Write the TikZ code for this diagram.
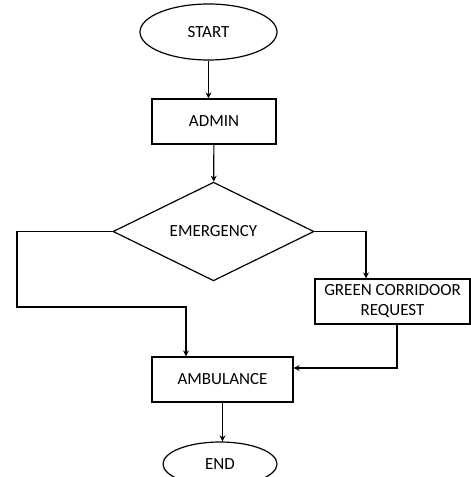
\documentclass[tikz,border=0pt]{standalone}
\usepackage{fontspec}
\setmainfont{Carlito}
\usepackage{tikz}
\usetikzlibrary{positioning}
\usetikzlibrary{shapes.geometric}
\usetikzlibrary{arrows.meta}

\begin{document}
\begin{tikzpicture}[x=1pt,y=-1pt,
        box/.style={draw, rectangle, line width=1.2pt, inner sep=0pt, font=\fontsize{17}{20}\selectfont},
        term/.style={draw, ellipse, line width=1.2pt, inner sep=0pt, font=\fontsize{17}{20}\selectfont},
        decide/.style={draw, diamond, line width=1.2pt, inner sep=0pt, font=\fontsize{17}{20}\selectfont},
        arr/.style={line width=1.2pt, -{Stealth[length=6pt,width=6pt]}}]
            \useasboundingbox (0,0) rectangle (471,477);
            \clip (0,0) rectangle (471,477);
            \node[term, minimum width=137, minimum height=56] (start) at (208.5,32){START};
            \node[box, minimum width=124, minimum height=45] (admin) at (214,121.5){ADMIN};
            \node[decide, minimum width=201, minimum height=73] (emerg) at (213.5,231.5){EMERGENCY};
            \node[box, minimum width=155, minimum height=45, align=center] (green) at (392.5,301.5){GREEN CORRIDOOR\\REQUEST};
            \node[box, minimum width=141, minimum height=45] (amb) at (222.5,379.5){AMBULANCE};
            \node[term, minimum width=114, minimum height=44] (end) at (220,464){END};
            \coordinate (lft) at (17,307);
            \draw[arr] (start.south) -- (start.south |- admin.north);
            \draw[arr] (admin) -- (emerg);
            \draw[arr] (emerg.west) -| (lft) -| ([xshift=-36.5]amb.north);
            \draw[arr] (emerg.east) -| ([xshift=-26.5]green.north);
            \draw[arr] ([xshift=4.5]green.south) |- ([yshift=11.5]amb.east);
            \draw[arr] (amb.south) -- (amb.south |- end.north);
        \end{tikzpicture}
\end{document}
